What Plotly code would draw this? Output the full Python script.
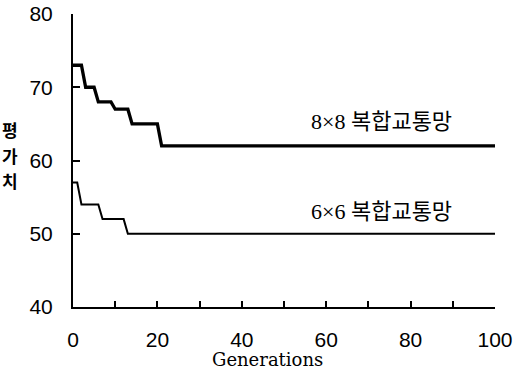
import plotly.graph_objects as go

gen_8x8 = [0, 2, 3, 5, 6, 9, 10, 13, 14, 20, 21, 100]
val_8x8 = [73, 73, 70, 70, 68, 68, 67, 67, 65, 65, 62, 62]
gen_6x6 = [0, 1, 2, 6, 7, 12, 13, 100]
val_6x6 = [57, 57, 54, 54, 52, 52, 50, 50]
label_8x8 = "8×8 복합교통망"
label_6x6 = "6×6 복합교통망"
x_title = "Generations"
y_title_chars = ["평", "가", "치"]
x_ticks = [0, 20, 40, 60, 80, 100]
y_ticks = [40, 50, 60, 70, 80]

fig = go.Figure()
fig.add_trace(go.Scatter(x=gen_8x8, y=val_8x8, mode="lines",
                         line=dict(color="black", width=3.3), showlegend=False))
fig.add_trace(go.Scatter(x=gen_6x6, y=val_6x6, mode="lines",
                         line=dict(color="black", width=2), showlegend=False))

label_font = dict(family="Liberation Serif, Noto Sans CJK KR", size=22, color="black")
fig.add_annotation(x=73.2, y=65.3, text=label_8x8, showarrow=False, font=label_font)
fig.add_annotation(x=73.2, y=53.0, text=label_6x6, showarrow=False, font=label_font)

# y title: stacked characters
for i, ch in enumerate(y_title_chars):
    fig.add_annotation(xref="paper", yref="paper", x=-0.149, y=0.605 - i * 0.087,
                       text="<b>" + ch + "</b>", showarrow=False,
                       xanchor="center", yanchor="middle",
                       font=dict(family="Noto Sans CJK KR", size=17, color="black"))

# x title
fig.add_annotation(xref="paper", yref="paper", x=0.461, y=-0.178, text=x_title,
                   showarrow=False, xanchor="center", yanchor="middle",
                   font=dict(family="DejaVu Serif", size=18, color="black"))

tick_font = dict(family="Liberation Sans Narrow, Arial Narrow, Liberation Sans",
                 size=21, color="black")
fig.update_layout(
    width=515, height=380,
    margin=dict(l=73, r=20, t=14, b=73),
    plot_bgcolor="white", paper_bgcolor="white",
    xaxis=dict(range=[0, 100], tickvals=x_ticks, ticks="inside", ticklen=6,
               tickwidth=1.5, tickcolor="black", showline=True, linewidth=2,
               linecolor="black", showgrid=False, zeroline=False, automargin=False,
               tickfont=tick_font, ticklabelstandoff=13,
               minor=dict(dtick=10, tick0=0, ticks="inside", ticklen=6,
                          tickwidth=1.5, tickcolor="black")),
    yaxis=dict(range=[40, 80], tickvals=y_ticks, ticks="inside", ticklen=7,
               tickwidth=1.5, tickcolor="black", showline=True, linewidth=2,
               linecolor="black", showgrid=False, zeroline=False, automargin=False,
               tickfont=tick_font, ticklabelstandoff=14),
)

# remove the page's default body margin so the figure fills the window exactly
fig.write_html("out.html", config={"displayModeBar": False},
               post_script="document.body.style.margin='0';")
